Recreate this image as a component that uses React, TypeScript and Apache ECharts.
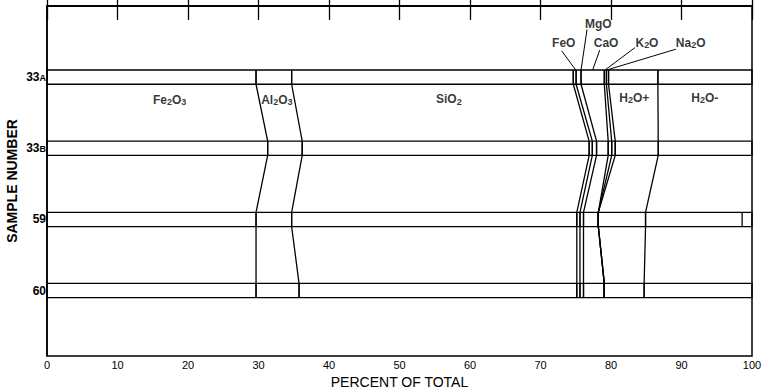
import React, { useEffect, useRef } from "react";
import * as echarts from "echarts";

// Samples (top to bottom) and their positions on the vertical axis
const samples = ["33A", "33B", "59", "60"];
const samplePos = [1, 2, 3, 4];

// Components, left to right, percent of total per sample
const components = ["Fe2O3", "Al2O3", "SiO2", "FeO", "MgO", "CaO", "K2O", "Na2O", "H2O+", "H2O-", "other"];
const fe2o3 = [29.65, 31.3, 29.65, 29.65];
const al2o3 = [5.05, 4.9, 5.05, 6.1];
const sio2 = [39.95, 40.7, 40.45, 39.4];
const feo = [0.4, 0.45, 0.45, 0.45];
const mgo = [0.7, 0.6, 0.5, 0.5];
const cao = [3.3, 1.65, 2.1, 2.95];
const k2o = [0.3, 0.5, 0, 0];
const na2o = [0.3, 0.5, 0, 0];
const h2oPlus = [7.0, 6.1, 6.7, 5.65];
const h2oMinus = [13.35, 13.3, 13.7, 15.3];
const other = [0, 0, 1.4, 0];
const componentValues = [fe2o3, al2o3, sio2, feo, mgo, cao, k2o, na2o, h2oPlus, h2oMinus, other];

// number of boundaries that are traced from sample to sample
const connectedBoundaries = 9;

// Axis ticks
const xTicks = [0, 10, 20, 30, 40, 50, 60, 70, 80, 90, 100];

// Component labels: [name, x (percent), y (sample axis units)]
const bandLabels: [string, number, number][] = [
  ["Fe2O3", 17.4, 1.32],
  ["Al2O3", 32.6, 1.32],
  ["SiO2", 57.0, 1.31],
  ["H2O+", 83.3, 1.29],
  ["H2O-", 93.3, 1.29],
];
const topLabels: [string, number, number][] = [
  ["FeO", 73.3, 0.52],
  ["MgO", 78.2, 0.25],
  ["CaO", 79.3, 0.52],
  ["K2O", 85.1, 0.52],
  ["Na2O", 91.3, 0.52],
];
// Leader lines: [fromX, fromY, toX, toY]
const leaders: [number, number, number, number][] = [
  [73.0, 0.63, 75.0, 0.9],
  [76.6, 0.33, 75.75, 0.9],
  [78.4, 0.62, 77.4, 0.9],
  [83.4, 0.585, 79.15, 0.9],
  [89.2, 0.607, 79.4, 0.9],
];

const HALF = 0.1;
const FONT = "Liberation Sans";

function richName(name: string): string {
  let out = "";
  let buf = "";
  for (const ch of name) {
    if (/\d/.test(ch)) {
      if (buf) out += `{n|${buf}}`;
      buf = "";
      out += `{s|${ch}}`;
    } else {
      buf += ch;
    }
  }
  if (buf) out += `{n|${buf}}`;
  return out;
}

function cumulative(sampleIdx: number): number[] {
  const out: number[] = [];
  let acc = 0;
  for (const vals of componentValues) {
    acc += vals[sampleIdx];
    out.push(Math.round(acc * 100) / 100);
  }
  return out;
}

export default function App() {
  const ref = useRef<HTMLDivElement>(null);
  useEffect(() => {
    if (!ref.current) return;
    document.body.style.margin = "0";
    const chart = echarts.init(ref.current, null, { renderer: "svg" });
    const cums = samples.map((_, i) => cumulative(i));

    const labelRich = {
      n: { fontFamily: FONT, fontSize: 12, fontWeight: "bold", color: "#000" },
      s: { fontFamily: FONT, fontSize: 9, fontWeight: "bold", color: "#000", padding: [5, 0, 0, 0] },
    };

    const boundarySeries = [];
    for (let k = 0; k < connectedBoundaries; k++) {
      const data: number[][] = [];
      samples.forEach((_, i) => {
        data.push([cums[i][k], samplePos[i] - HALF]);
        data.push([cums[i][k], samplePos[i] + HALF]);
      });
      boundarySeries.push({
        type: "line",
        data,
        symbol: "none",
        silent: true,
        lineStyle: { color: "#000", width: 1.3 },
        z: 3,
      });
    }

    const leaderSeries = leaders.map((l) => ({
      type: "line",
      data: [
        [l[0], l[1]],
        [l[2], l[3]],
      ],
      symbol: "none",
      silent: true,
      lineStyle: { color: "#000", width: 1 },
    }));

    const option = {
      animation: false,
      grid: {
        left: 47,
        right: 11,
        top: 6,
        bottom: 33,
        outerBoundsMode: "none",
        containLabel: false,
        show: true,
        borderColor: "#000",
        borderWidth: 1.5,
        backgroundColor: "transparent",
      },
      xAxis: [
        {
          type: "value",
          min: xTicks[0],
          max: xTicks[xTicks.length - 1],
          interval: 10,
          position: "bottom",
          name: "PERCENT OF TOTAL",
          nameLocation: "middle",
          nameGap: 18,
          nameTextStyle: { fontFamily: FONT, fontSize: 14, color: "#000" },
          axisLine: { show: true, lineStyle: { color: "#000", width: 1.5 } },
          axisTick: { show: true, inside: true, length: 14, lineStyle: { color: "#000", width: 1.3 } },
          axisLabel: { fontFamily: FONT, fontSize: 11, color: "#000", margin: 3 },
          splitLine: { show: false },
        },
        {
          type: "value",
          min: xTicks[0],
          max: xTicks[xTicks.length - 1],
          interval: 10,
          position: "top",
          axisLine: { show: true, lineStyle: { color: "#000", width: 1.5 } },
          axisTick: { show: true, inside: true, length: 14, lineStyle: { color: "#000", width: 1.3 } },
          axisLabel: { show: false },
          splitLine: { show: false },
        },
      ],
      yAxis: {
        type: "value",
        inverse: true,
        min: 0,
        max: 4.92,
        interval: 1,
        name: "SAMPLE NUMBER",
        nameLocation: "middle",
        nameRotate: 90,
        nameGap: 28,
        nameMoveOverlap: false,
        nameTextStyle: { fontFamily: FONT, fontSize: 14, fontWeight: "bold", color: "#000" },
        axisLine: { show: true, lineStyle: { color: "#000", width: 1.5 } },
        axisTick: { show: false },
        splitLine: { show: false },
        axisLabel: {
          margin: 1,
          showMaxLabel: false,
          formatter: (v: number) => {
            const idx = samplePos.indexOf(v);
            if (idx < 0) return "";
            const s = samples[idx];
            const m = s.match(/^(\d+)([A-Z]?)$/);
            if (m && m[2]) return `{a|${m[1]}}{b|${m[2]}}`;
            return `{a|${s}}`;
          },
          rich: {
            a: { fontFamily: FONT, fontSize: 12, fontWeight: "bold", color: "#000" },
            b: { fontFamily: FONT, fontSize: 9, fontWeight: "bold", color: "#000", padding: [1, 0, 0, 0] },
          },
        },
      },
      series: [
        {
          type: "custom",
          silent: true,
          data: samples.map((_, i) => [i]),
          renderItem: (_params: any, api: any) => {
            const i = api.value(0);
            const p = samplePos[i];
            const tl = api.coord([0, p - HALF]);
            const br = api.coord([100, p + HALF]);
            const children: any[] = [
              {
                type: "rect",
                shape: { x: tl[0], y: tl[1], width: br[0] - tl[0], height: br[1] - tl[1] },
                style: { fill: "none", stroke: "#000", lineWidth: 1.3 },
              },
            ];
            cums[i].forEach((c) => {
              if (c <= 0 || c >= 100) return;
              const x = api.coord([c, p])[0];
              children.push({
                type: "line",
                shape: { x1: x, y1: tl[1], x2: x, y2: br[1] },
                style: { stroke: "#000", lineWidth: 1.3 },
              });
            });
            return { type: "group", children };
          },
          z: 2,
        },
        ...boundarySeries,
        ...leaderSeries,
        {
          type: "scatter",
          silent: true,
          symbolSize: 0,
          data: [...bandLabels, ...topLabels].map((l) => ({ value: [l[1], l[2]], name: l[0] })),
          label: {
            show: true,
            position: "inside",
            color: "#000",
            formatter: (p: any) => richName(p.name),
            rich: labelRich,
          },
          z: 5,
        },
      ],
    };
    chart.setOption(option as any);
    return () => chart.dispose();
  }, []);
  return <div ref={ref} style={{ width: 763, height: 389 }} />;
}
